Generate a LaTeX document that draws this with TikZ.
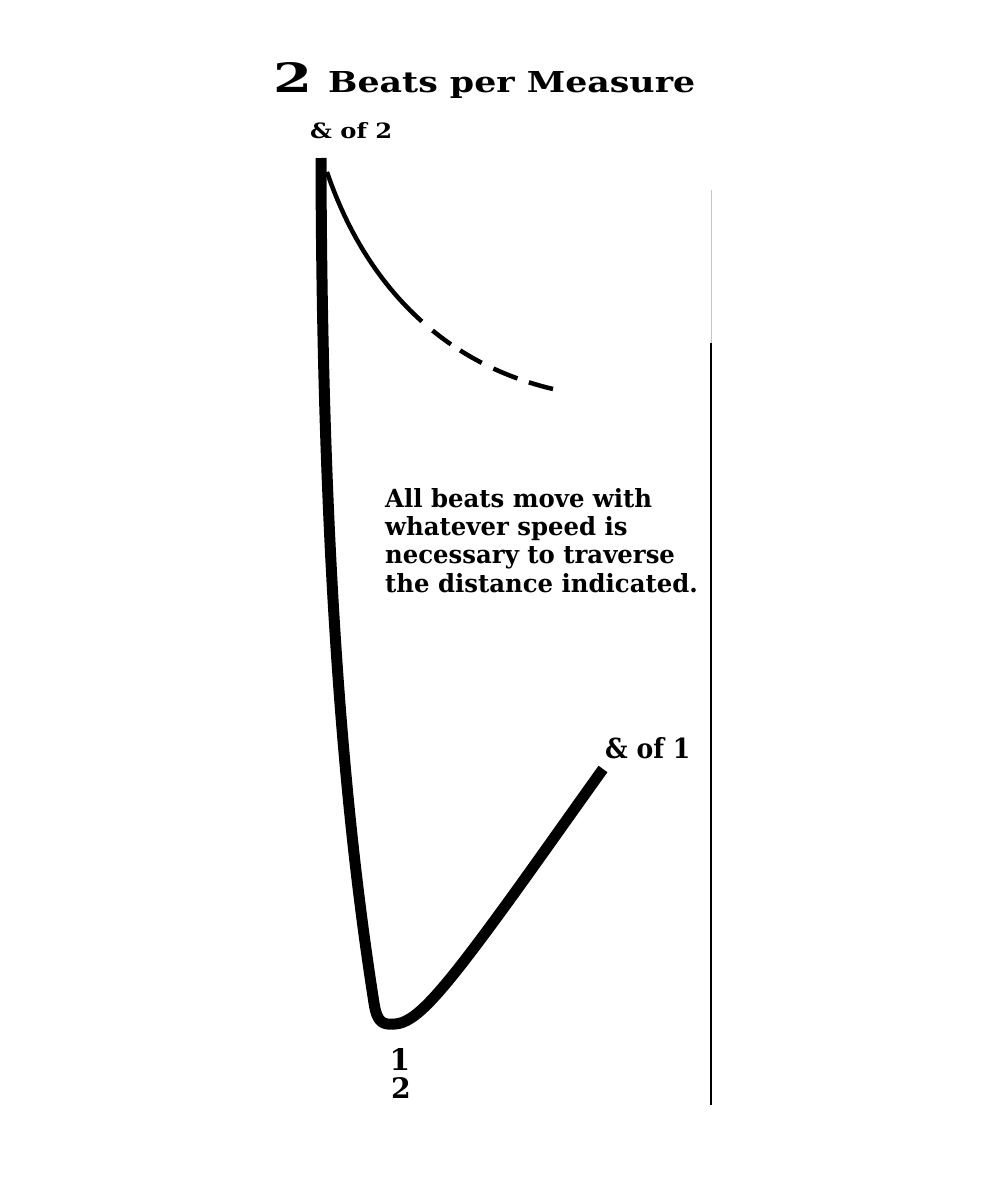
\documentclass[tikz,border=0pt]{standalone}
\usepackage{fontspec}
\setmainfont{DejaVu Serif}
\usepackage{graphicx}
\newlength\bodyw
\newlength\bodyh
\begin{document}
\settowidth\bodyw{\bfseries All beats move with}%
\settoheight\bodyh{\bfseries All beats move with}%
\pgfmathsetmacro\sx{267/\bodyw}%
\pgfmathsetmacro\sy{19/\bodyh}%
\begin{tikzpicture}[x=1pt,y=-1pt,
  thickcurve/.style={line width=11pt, line join=round},
  thincurve/.style={line width=4.5pt},
  lbl/.style={inner sep=0pt, anchor=base west, font=\bfseries},
  clbl/.style={inner sep=0pt, anchor=base, font=\bfseries},
  rule/.style={line width=2pt}]
\useasboundingbox (0,0) rectangle (982,1188);
\fill[white] (0,0) rectangle (982,1188);
% title
\node[lbl] (two) at (273,93) {\resizebox{39pt}{30pt}{2}};
\node[lbl] (title) at (328,93) {\resizebox{367pt}{21pt}{Beats per Measure}};
% labels
\node[lbl] (and2) at (310,138) {\resizebox{82pt}{16pt}{\& of 2}};
\node[lbl] (and1) at (605,758) {\resizebox{85pt}{21pt}{\& of 1}};
\node[clbl] (one) at (400,1070) {\resizebox{!}{22pt}{1}};
\node[clbl] (twob) at (401,1098) {\resizebox{!}{21pt}{2}};
% body text
\node[lbl] (l1) at (385,507) {\scalebox{\sx}[\sy]{All beats move with}};
\node[lbl] (l2) at (385,535) {\scalebox{\sx}[\sy]{whatever speed is}};
\node[lbl] (l3) at (385,563) {\scalebox{\sx}[\sy]{necessary to traverse}};
\node[lbl] (l4) at (385,592) {\scalebox{\sx}[\sy]{the distance indicated.}};
% thick beat path
\coordinate (top) at (321,158);
\coordinate (lowleft) at (374,1003);
\coordinate (bottom) at (395,1024);
\coordinate (mid) at (500,913);
\coordinate (end1) at (603,769);
\draw[thickcurve] (top) .. controls (322,600) and (350,850) .. (lowleft)
  .. controls (377,1023) and (383,1025) .. (bottom)
  .. controls (415,1023) and (440,995) .. (mid)
  .. controls (530,872) and (570,815) .. (end1);
% thin rebound curve, solid then dashed
\coordinate (t0) at (327,172);
\coordinate (t1) at (553,389);
\draw[thincurve, dash pattern=on 179pt off 14pt on 23pt off 11pt on 25pt off 13pt on 26pt off 12pt on 40pt]
  (t0) .. controls (360,270) and (430,360) .. (t1);
% right rule
\coordinate (r0) at (711,190);
\coordinate (r1) at (711,343);
\coordinate (r2) at (711,1105);
\draw[gray!45, line width=1pt] (r0) -- (r1);
\draw[rule] (r1) -- (r2);
\end{tikzpicture}
\end{document}
